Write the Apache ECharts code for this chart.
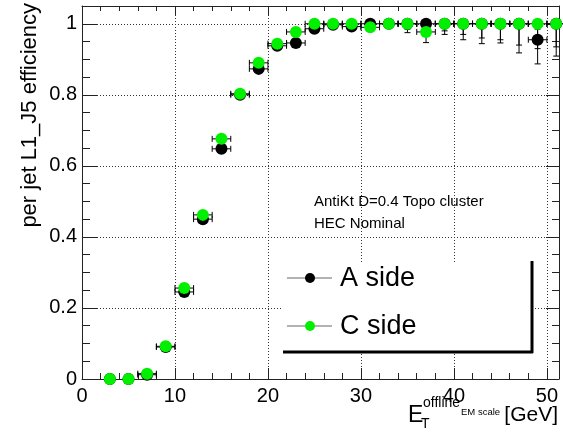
<!DOCTYPE html>
<html>
<head>
<meta charset="utf-8">
<script src="https://cdn.jsdelivr.net/npm/echarts@6/dist/echarts.min.js"></script>
<style>
html,body{margin:0;padding:0;background:#fff;}
#chart{width:563px;height:433px;}
</style>
</head>
<body>
<div id="chart"></div>
<script>
// ---- data ----
const xCenters = [3,5,7,9,11,13,15,17,19,21,23,25,27,29,31,33,35,37,39,41,43,45,47,49,51];
const xHalfWidth = [0,0,1,1,1,1,1,1,1,1,1,1,1,1,1,1,1,1,1,1,1,1,1,1,1];
const aEff    = [0,0,0.012,0.090,0.245,0.450,0.648,0.800,0.873,0.938,0.946,0.986,0.997,0.992,1.0,1.0,1.0,1.0,1.0,1.0,1.0,1.0,1.0,0.955,1.0];
const aErrLow = [0,0,0.005,0.008,0.010,0.010,0.010,0.008,0.007,0.006,0.006,0.005,0.004,0.005,0.008,0.010,0.015,0.020,0.020,0.030,0.040,0.045,0.060,0.068,0.065];
const aErrHigh= [0,0,0.005,0.008,0.010,0.010,0.010,0.008,0.007,0.006,0.006,0.005,0.003,0.004,0,0,0,0,0,0,0,0,0,0.030,0];
const cEff    = [0,0,0.015,0.092,0.256,0.462,0.676,0.803,0.890,0.944,0.977,1.0,1.0,1.0,0.990,1.0,1.0,0.977,1.0,1.0,1.0,1.0,1.0,1.0,1.0];
const cErrLow = [0,0,0.005,0.008,0.010,0.010,0.010,0.008,0.007,0.005,0.004,0.003,0.003,0.004,0.006,0.008,0.025,0.030,0.030,0.045,0.056,0.054,0.082,0.070,0.091];
const cErrHigh= [0,0,0.005,0.008,0.010,0.010,0.010,0.008,0.006,0.005,0.004,0,0,0,0.005,0,0,0.020,0,0,0,0,0,0,0];
const yTicks = [0,0.2,0.4,0.6,0.8,1];
const xTicks = [0,10,20,30,40,50];
const seriesNames = ['A side','C side'];
const yTitle = 'per jet L1_J5 efficiency';
const notes = ['AntiKt D=0.4 Topo cluster','HEC Nominal'];

const FONT = '"Liberation Sans", Arial, Helvetica, sans-serif';
const GREEN = '#00f000';

function errData(eff, lo, hi){
  return xCenters.map((x,i)=>[x, eff[i], xHalfWidth[i], lo[i], hi[i]]);
}
function renderErr(params, api){
  const x = api.value(0), y = api.value(1), xe = api.value(2), lo = api.value(3), hi = api.value(4);
  const c = api.coord([x,y]);
  const children = [];
  const st = {stroke:'#000', lineWidth:1};
  const cap = 3;
  if (xe > 0){
    const l = api.coord([x-xe,y]), r = api.coord([x+xe,y]);
    children.push({type:'line', shape:{x1:l[0],y1:c[1],x2:r[0],y2:c[1]}, style:st});
    children.push({type:'line', shape:{x1:l[0],y1:c[1]-cap,x2:l[0],y2:c[1]+cap}, style:st});
    children.push({type:'line', shape:{x1:r[0],y1:c[1]-cap,x2:r[0],y2:c[1]+cap}, style:st});
  }
  if (lo > 0){
    const b = api.coord([x,y-lo]);
    children.push({type:'line', shape:{x1:c[0],y1:c[1],x2:c[0],y2:b[1]}, style:st});
    children.push({type:'line', shape:{x1:c[0]-cap,y1:b[1],x2:c[0]+cap,y2:b[1]}, style:st});
  }
  if (hi > 0){
    const t = api.coord([x,y+hi]);
    children.push({type:'line', shape:{x1:c[0],y1:c[1],x2:c[0],y2:t[1]}, style:st});
    children.push({type:'line', shape:{x1:c[0]-cap,y1:t[1],x2:c[0]+cap,y2:t[1]}, style:st});
  }
  return {type:'group', children};
}

const chart = echarts.init(document.getElementById('chart'), null, {renderer:'canvas'});
const gridL = 82, gridT = 6, gridR = 4, gridB = 54;

const axisCommon = {
  type:'value',
  axisLine:{show:true, onZero:false, lineStyle:{color:'#222', width:1}},
  splitLine:{show:false},
  minorSplitLine:{show:false}
};

const option = {
  animation:false,
  backgroundColor:'#fff',
  grid:{left:gridL, top:gridT, right:gridR, bottom:gridB, show:false},
  xAxis:[
    Object.assign({}, axisCommon, {
      position:'bottom', min:0, max:51.3, interval:10,
      axisTick:{show:true, inside:true, length:11, lineStyle:{color:'#222'}},
      minorTick:{show:true, splitNumber:5, length:6, lineStyle:{color:'#222'}},
      splitLine:{show:true, lineStyle:{color:'#333', type:[1,2], width:1}},
      axisLabel:{show:true, fontFamily:FONT, fontSize:20, color:'#000', margin:7, showMaxLabel:false,
        formatter:v=> xTicks.indexOf(v)>=0 ? String(v) : ''}
    }),
    Object.assign({}, axisCommon, {
      position:'top', min:0, max:51.3, interval:10,
      axisTick:{show:true, inside:true, length:9, lineStyle:{color:'#222'}},
      minorTick:{show:true, splitNumber:5, length:5, lineStyle:{color:'#222'}},
      axisLabel:{show:false}
    })
  ],
  yAxis:[
    Object.assign({}, axisCommon, {
      position:'left', min:0, max:1.05, interval:0.2,
      axisTick:{show:true, inside:true, length:15, lineStyle:{color:'#222'}},
      minorTick:{show:true, splitNumber:4, length:8, lineStyle:{color:'#222'}},
      splitLine:{show:true, lineStyle:{color:'#333', type:[1,2], width:1}},
      axisLabel:{show:true, fontFamily:FONT, fontSize:20, color:'#000', margin:5, showMaxLabel:false,
        formatter:v=> { const k = yTicks.findIndex(t=>Math.abs(t-v)<1e-9); return k>=0 ? String(yTicks[k]) : ''; }}
    }),
    Object.assign({}, axisCommon, {
      position:'right', min:0, max:1.05, interval:0.2,
      axisTick:{show:true, inside:true, length:13, lineStyle:{color:'#222'}},
      minorTick:{show:true, splitNumber:4, length:7, lineStyle:{color:'#222'}},
      axisLabel:{show:false}
    })
  ],
  series:[
    {name:seriesNames[0]+' err', type:'custom', renderItem:renderErr, data:errData(aEff,aErrLow,aErrHigh), z:2, silent:true},
    {name:seriesNames[0], type:'scatter', data:xCenters.map((x,i)=>[x,aEff[i]]), symbol:'circle', symbolSize:12,
      itemStyle:{color:'#000', opacity:1}, z:3, clip:false},
    {name:seriesNames[1]+' err', type:'custom', renderItem:renderErr, data:errData(cEff,cErrLow,cErrHigh), z:4, silent:true},
    {name:seriesNames[1], type:'scatter', data:xCenters.map((x,i)=>[x,cEff[i]]), symbol:'circle', symbolSize:12,
      itemStyle:{color:GREEN, opacity:1}, z:5, clip:false}
  ],
  graphic:[
    // y axis title
    {type:'text', x:30, y:3, rotation:Math.PI/2,
      style:{text:yTitle, font:'22px '+FONT, fill:'#000', textAlign:'right', textVerticalAlign:'middle'}},
    // x axis title pieces
    {type:'text', x:408, y:416, style:{text:'E', font:'23px '+FONT, fill:'#000', textVerticalAlign:'middle'}},
    {type:'text', x:421, y:424, style:{text:'T', font:'14px '+FONT, fill:'#000', textVerticalAlign:'middle'}},
    {type:'text', x:423, y:403, style:{text:'offline', font:'14px '+FONT, fill:'#000', textVerticalAlign:'middle'}},
    {type:'text', x:461, y:412, style:{text:'EM scale', font:'9.5px '+FONT, fill:'#000', textVerticalAlign:'middle'}},
    {type:'text', x:558, y:415, style:{text:'[GeV]', font:'21px '+FONT, fill:'#000', textAlign:'right', textVerticalAlign:'middle'}},
    // notes
    {type:'text', x:314, y:202, style:{text:notes[0], font:'15px '+FONT, fill:'#000', textVerticalAlign:'middle'}},
    {type:'text', x:314, y:224, style:{text:notes[1], font:'15px '+FONT, fill:'#000', textVerticalAlign:'middle'}},
    // legend box shadow
    {type:'rect', shape:{x:282, y:262, width:251, height:91}, style:{fill:'#fff', stroke:null}, z:10},
    {type:'line', shape:{x1:532, y1:261, x2:532, y2:353}, style:{stroke:'#000', lineWidth:3}, z:11},
    {type:'line', shape:{x1:283, y1:352, x2:533, y2:352}, style:{stroke:'#000', lineWidth:3}, z:11},
    // legend entries
    {type:'line', shape:{x1:287, y1:278, x2:332, y2:278}, style:{stroke:'#666', lineWidth:1}, z:11},
    {type:'circle', shape:{cx:310, cy:278, r:5}, style:{fill:'#000'}, z:12},
    {type:'text', x:340, y:279, style:{text:seriesNames[0], font:'27px '+FONT, fill:'#000', textVerticalAlign:'middle'}, z:12},
    {type:'line', shape:{x1:287, y1:326, x2:332, y2:326}, style:{stroke:'#666', lineWidth:1}, z:11},
    {type:'circle', shape:{cx:310, cy:326, r:5}, style:{fill:GREEN}, z:12},
    {type:'text', x:340, y:327, style:{text:seriesNames[1], font:'27px '+FONT, fill:'#000', textVerticalAlign:'middle'}, z:12}
  ]
};
chart.setOption(option);
</script>
</body>
</html>
